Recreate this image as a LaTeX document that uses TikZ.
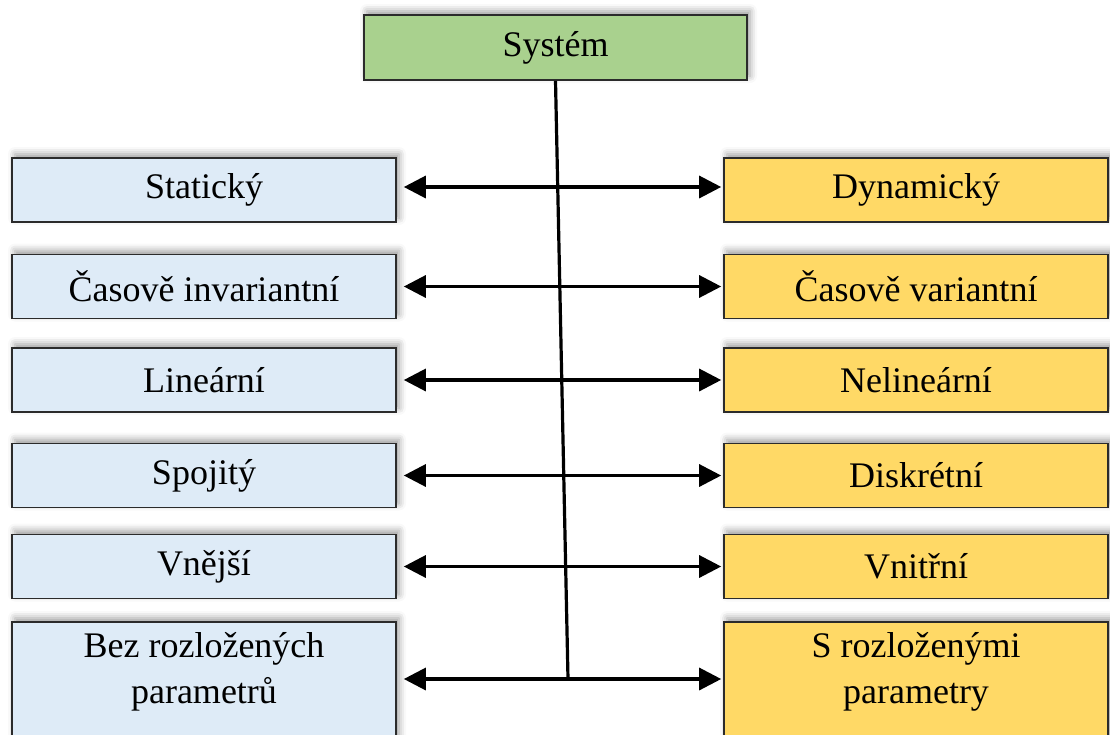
\documentclass[tikz,border=0pt]{standalone}
\usepackage{fontspec}
\setmainfont{Liberation Serif}
\usetikzlibrary{arrows.meta,shadows.blur}
\definecolor{sysgreen}{HTML}{A9D18E}
\definecolor{lblue}{HTML}{DEEBF7}
\definecolor{lyellow}{HTML}{FFD966}
\definecolor{edgegray}{HTML}{2B2B2B}
\tikzset{
  box/.style={draw=edgegray, line width=1.6pt, minimum width=384pt, minimum height=64pt,
    inner sep=0pt, font=\fontsize{36}{46}\selectfont, align=center,
    blur shadow={shadow xshift=3pt, shadow yshift=4pt, shadow blur radius=7pt, shadow opacity=40}},
  sysbox/.style={box, fill=sysgreen, minimum width=383pt, minimum height=65pt},
  lbox/.style={box, fill=lblue},
  rbox/.style={box, fill=lyellow},
  txt/.style={font=\fontsize{36}{46}\selectfont, align=center, inner sep=0pt},
  conn/.style={line width=3.2pt, black},
  arr/.style={conn, {Triangle[length=22pt,width=22pt]}-{Triangle[length=22pt,width=22pt]},
    shorten <=7pt, shorten >=2pt},
}
\begin{document}
\begin{tikzpicture}[x=1pt,y=-1pt]
\useasboundingbox (0,0) rectangle (1110,734);
\clip (0,0) rectangle (1110,734);
\node[sysbox] (sys) at (555.5,47.5) {Systém};

\node[lbox] (l1) at (204,190) {Statický};
\node[lbox] (l2) at (204,286.5) {Časově invariantní};
\node[lbox] (l3) at (204,380) {Lineární};
\node[lbox] (l4) at (204,475.5) {Spojitý};
\node[lbox] (l5) at (204,566.5) {Vnější};
\node[lbox, minimum height=140pt] (l6) at (204,692) {};
\node[txt] (l6t) at (204,672) {Bez rozložených\\parametrů};

\node[rbox] (r1) at (916,190) {Dynamický};
\node[rbox] (r2) at (916,286.5) {Časově variantní};
\node[rbox] (r3) at (916,380) {Nelineární};
\node[rbox] (r4) at (916,475.5) {Diskrétní};
\node[rbox] (r5) at (916,566.5) {Vnitřní};
\node[rbox, minimum height=140pt] (r6) at (916,692) {};
\node[txt] (r6t) at (916,672) {S rozloženými\\parametry};

\coordinate (vend) at (568,679);
\draw[conn] (sys.south) -- (vend);

\draw[arr] ([yshift=3pt]l1.east) -- ([yshift=3pt]r1.west);
\draw[arr] (l2.east) -- (r2.west);
\draw[arr] (l3.east) -- (r3.west);
\draw[arr] (l4.east) -- (r4.west);
\draw[arr] (l5.east) -- (r5.west);
\draw[arr] (l6.east |- vend) -- (r6.west |- vend);
\end{tikzpicture}
\end{document}
